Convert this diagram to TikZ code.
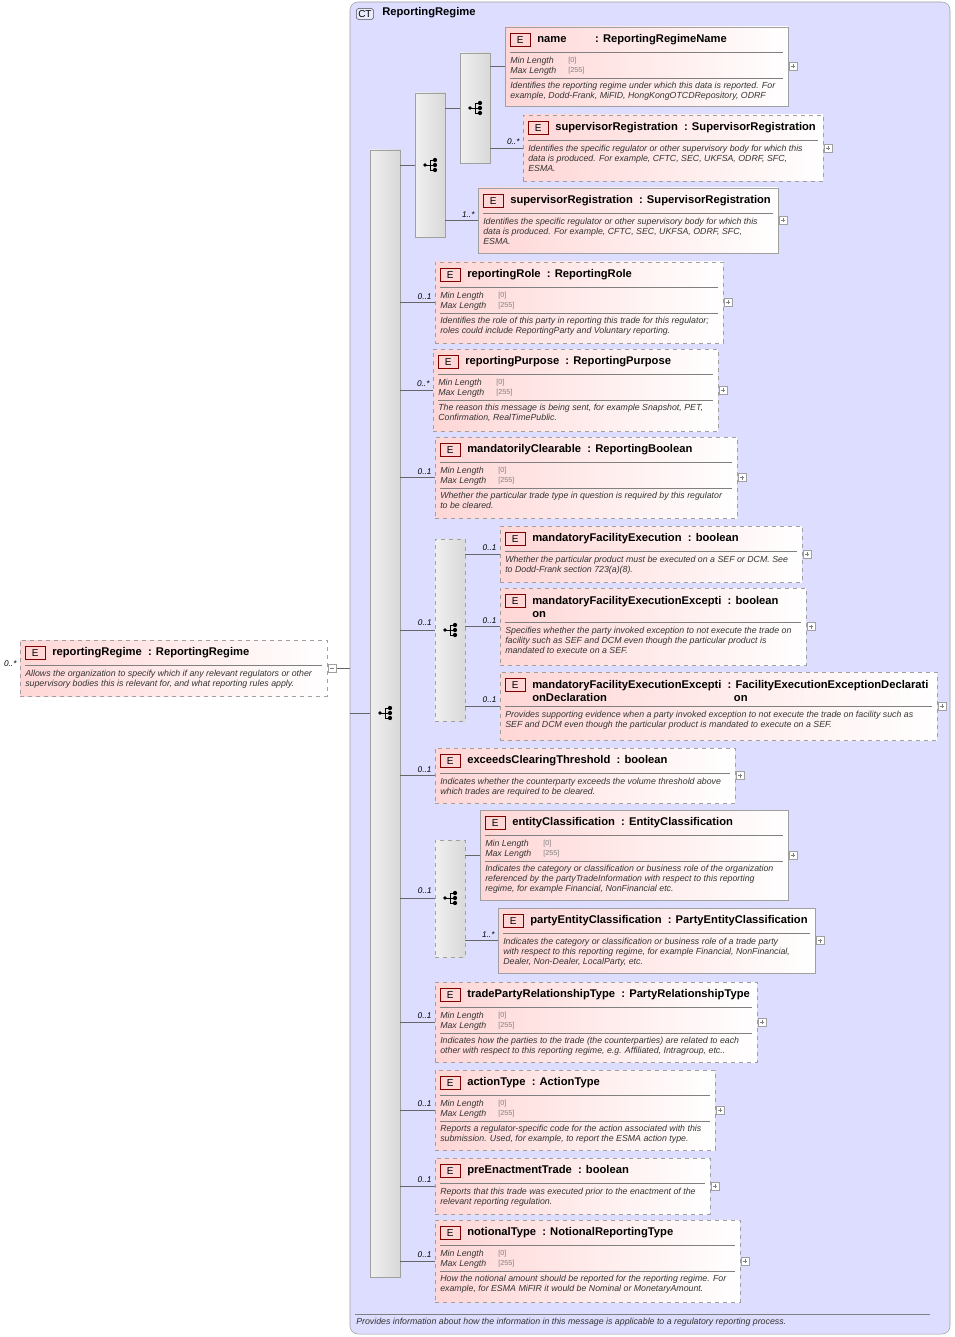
\documentclass[tikz,border=0pt]{standalone}
\usepackage{fontspec}
\setmainfont{Liberation Sans}
\usetikzlibrary{calc,fit}
\definecolor{ctfill}{RGB}{221,221,255}
\definecolor{elpink}{RGB}{255,214,214}
\definecolor{frame}{RGB}{160,160,160}
\tikzset{
  elembox/.style={draw=frame, left color=elpink, right color=white, inner sep=0pt},
  opt/.style={dashed},
  bar/.style={draw=frame, left color=gray!12, right color=gray!30, inner sep=0pt},
  badge/.style={draw=red!50!black, fill=elpink, font=\fontsize{7.5}{8}\selectfont, minimum width=15pt, minimum height=10pt, inner sep=0pt},
  ttl/.style={font=\bfseries\fontsize{8.4}{9.6}\selectfont, inner sep=0pt},
  doc/.style={font=\itshape\fontsize{6.6}{7.5}\selectfont, align=left, inner sep=0pt, text=black!80},
  mult/.style={font=\itshape\fontsize{6.2}{7}\selectfont, inner sep=0pt},
  plus/.style={draw=frame, fill=white, minimum size=6pt, inner sep=0pt},
  link/.style={draw=gray!80!black, line width=0.4pt},
}
\newcommand{\hdr}{25}
% element box: style, id, x1, y1, x2, y2, title, facets (0/1), documentation
\newcommand{\elem}[9]{%
  \node[elembox,#1,fit={(#3,#4) (#5,#6)}] (#2) {};
  \node[badge,anchor=north west] at (#3+5,#4+6) {E};
  \node[ttl,anchor=north west] at (#3+32,#4+7) {#7};
  \draw[gray] (#3+5,#4+\hdr) -- (#5-5,#4+\hdr);
  \ifnum#8=1
    \node[doc,anchor=north west] at (#3+5,#4+\hdr+5) {Min Length\\Max Length};
    \node[doc,anchor=north west,font=\fontsize{5.4}{7.5}\selectfont,text=gray] at (#3+63,#4+\hdr+5) {[0]\\{}[255]};
    \draw[gray] (#3+5,#4+\hdr+26) -- (#5-5,#4+\hdr+26);
    \node[doc,anchor=north west] at (#3+5,#4+\hdr+30) {#9};
  \else
    \node[doc,anchor=north west] at (#3+5,#4+\hdr+5) {#9};
  \fi
  \node[plus] at ($(#2.east)+(5,0)$) {};
  \draw[gray,line width=0.3pt] ($(#2.east)+(3,0)$) -- ($(#2.east)+(7,0)$) ($(#2.east)+(5,-2)$) -- ($(#2.east)+(5,2)$);
}
% sequence icon
\newcommand{\seqicon}[2]{%
  \fill (#1-5,#2) circle (1.4pt);
  \draw[line width=0.7pt] (#1-5,#2) -- (#1,#2) (#1,#2-5) -- (#1,#2+5) (#1,#2-5) -- (#1+5,#2-5) (#1,#2) -- (#1+5,#2) (#1,#2+5) -- (#1+5,#2+5);
  \foreach \dy in {-5,0,5} \fill (#1+5,#2+\dy) circle (1.6pt);
}
\begin{document}
\begin{tikzpicture}[x=0.75pt,y=-0.75pt]
\useasboundingbox (0,0) rectangle (955,1337);

% complex type frame
\node[draw=frame, fill=ctfill, rounded corners=6pt, fit={(350,2) (950,1334)}, inner sep=0pt] (ct) {};
\node[draw=gray!60!black, fill=ctfill!70!blue!20, rounded corners=2pt, font=\fontsize{7.5}{8}\selectfont, inner sep=1.5pt, anchor=west] (ctb) at (356,14) {CT};
\node[ttl, anchor=west] at (382,13) {ReportingRegime};
\draw[gray] (355,1314) -- (930,1314);
\node[doc, anchor=west] at (356,1322) {Provides information about how the information in this message is applicable to a regulatory reporting process.};

% root element
\elem{opt}{root}{20}{640}{327}{696}{reportingRegime\ \ : ReportingRegime}{0}{Allows the organization to specify which if any relevant regulators or other\\supervisory bodies this is relevant for, and what reporting rules apply.}
\node[mult, anchor=south east] at ($(root.west)+(-3,-1)$) {0..*};
\node[draw=frame, fill=white, minimum size=6pt, inner sep=0pt] (minus) at ($(root.east)+(5,0)$) {};
\draw[gray] ($(minus.center)+(-2,0)$) -- ($(minus.center)+(2,0)$);

% sequences and choices
\node[bar, fit={(370,150) (400,1277)}] (seqM) {};
\node[bar, fit={(415,93) (445,237)}] (seqA) {};
\node[bar, fit={(460,53) (490,163)}] (seqB) {};
\node[bar, opt, fit={(435,539) (465,721)}] (choC) {};
\node[bar, opt, fit={(435,840) (465,957)}] (seqE) {};
\seqicon{385}{713}
\seqicon{430}{165}
\seqicon{475}{108}
\seqicon{450}{630}
\seqicon{450}{898}
\draw[link] (minus.east) -- (ct.west |- minus.east);
\draw[link] (ct.west |- 0,713) -- (seqM.west |- 0,713);
\draw[link] (seqM.east |- 0,165) -- (seqA.west |- 0,165);
\draw[link] (seqA.east |- 0,108) -- (seqB.west |- 0,108);
\draw[link] (seqM.east |- 0,630) -- (choC.west |- 0,630);
\draw[link] (seqM.east |- 0,898) -- (seqE.west |- 0,898);
\node[mult, anchor=south east] at (432,626) {0..1};
\node[mult, anchor=south east] at (432,894) {0..1};

% elements
\elem{}{name}{505}{27}{788}{106}{name\qquad\ \ : ReportingRegimeName}{1}{Identifies the reporting regime under which this data is reported. For\\example, Dodd-Frank, MiFID, HongKongOTCDRepository, ODRF}
\elem{opt}{supA}{523}{115}{823}{181}{supervisorRegistration\ \ : SupervisorRegistration}{0}{Identifies the specific regulator or other supervisory body for which this\\data is produced. For example, CFTC, SEC, UKFSA, ODRF, SFC,\\ESMA.}
\elem{}{supB}{478}{188}{778}{253}{supervisorRegistration\ \ : SupervisorRegistration}{0}{Identifies the specific regulator or other supervisory body for which this\\data is produced. For example, CFTC, SEC, UKFSA, ODRF, SFC,\\ESMA.}
\elem{opt}{role}{435}{262}{723}{343}{reportingRole\ \ : ReportingRole}{1}{Identifies the role of this party in reporting this trade for this regulator;\\roles could include ReportingParty and Voluntary reporting.}
\elem{opt}{purp}{433}{349}{718}{431}{reportingPurpose\ \ : ReportingPurpose}{1}{The reason this message is being sent, for example Snapshot, PET,\\Confirmation, RealTimePublic.}
\elem{opt}{mclr}{435}{437}{737}{518}{mandatorilyClearable\ \ : ReportingBoolean}{1}{Whether the particular trade type in question is required by this regulator\\to be cleared.}
\elem{opt}{mfe}{500}{526}{802}{582}{mandatoryFacilityExecution\ \ : boolean}{0}{Whether the particular product must be executed on a SEF or DCM. See\\to Dodd-Frank section 723(a)(8).}
\renewcommand{\hdr}{34}
\elem{opt}{mfex}{500}{588}{806}{665}{\begin{tabular}[t]{@{}l@{\ \ }l@{}}mandatoryFacilityExecutionExcepti&: boolean\\on&\end{tabular}}{0}{Specifies whether the party invoked exception to not execute the trade on\\facility such as SEF and DCM even though the particular product is\\mandated to execute on a SEF.}
\elem{opt}{mfed}{500}{672}{937}{740}{\begin{tabular}[t]{@{}l@{\ \ }l@{}}mandatoryFacilityExecutionExcepti&: FacilityExecutionExceptionDeclarati\\onDeclaration&\ \ on\end{tabular}}{0}{Provides supporting evidence when a party invoked exception to not execute the trade on facility such as\\SEF and DCM even though the particular product is mandated to execute on a SEF.}
\renewcommand{\hdr}{25}
\elem{opt}{ect}{435}{748}{735}{803}{exceedsClearingThreshold\ \ : boolean}{0}{Indicates whether the counterparty exceeds the volume threshold above\\which trades are required to be cleared.}
\elem{}{ecl}{480}{810}{788}{900}{entityClassification\ \ : EntityClassification}{1}{Indicates the category or classification or business role of the organization\\referenced by the partyTradeInformation with respect to this reporting\\regime, for example Financial, NonFinancial etc.}
\elem{}{pecl}{498}{908}{815}{973}{partyEntityClassification\ \ : PartyEntityClassification}{0}{Indicates the category or classification or business role of a trade party\\with respect to this reporting regime, for example Financial, NonFinancial,\\Dealer, Non-Dealer, LocalParty, etc.}
\elem{opt}{tprt}{435}{982}{757}{1062}{tradePartyRelationshipType\ \ : PartyRelationshipType}{1}{Indicates how the parties to the trade (the counterparties) are related to each\\other with respect to this reporting regime, e.g. Affiliated, Intragroup, etc..}
\elem{opt}{act}{435}{1070}{715}{1150}{actionType\ \ : ActionType}{1}{Reports a regulator-specific code for the action associated with this\\submission. Used, for example, to report the ESMA action type.}
\elem{opt}{pre}{435}{1158}{710}{1214}{preEnactmentTrade\ \ : boolean}{0}{Reports that this trade was executed prior to the enactment of the\\relevant reporting regulation.}
\elem{opt}{notl}{435}{1220}{740}{1302}{notionalType\ \ : NotionalReportingType}{1}{How the notional amount should be reported for the reporting regime. For\\example, for ESMA MiFIR it would be Nominal or MonetaryAmount.}

% connectors with multiplicities
\foreach \from/\to/\m in {seqB/name/, seqB/supA/0..*, seqA/supB/1..*,
    seqM/role/0..1, seqM/purp/0..*, seqM/mclr/0..1,
    choC/mfe/0..1, choC/mfex/0..1, choC/mfed/0..1, seqM/ect/0..1,
    seqE/ecl/, seqE/pecl/1..*, seqM/tprt/0..1, seqM/act/0..1,
    seqM/pre/0..1, seqM/notl/0..1} {
  \draw[link] (\from.east |- \to.west) -- (\to.west);
  \node[mult, anchor=south east] at ($(\to.west)+(-3,-3)$) {\m};
}
\end{tikzpicture}
\end{document}
